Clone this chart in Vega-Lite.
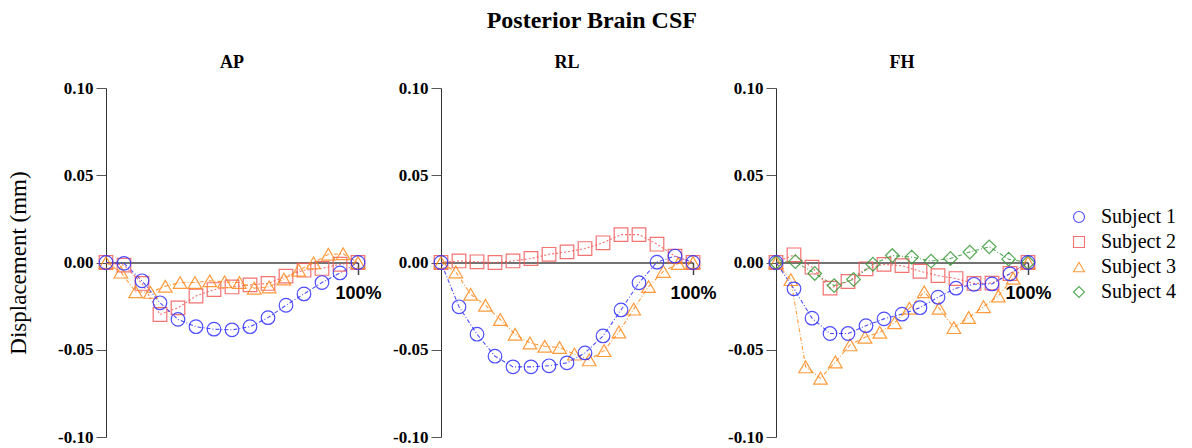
{
  "$schema": "https://vega.github.io/schema/vega-lite/v6.json",
  "title": {"text": "Posterior Brain CSF", "fontSize": 24, "anchor": "middle", "frame": "bounds", "offset": 21},
  "padding": {"left": 7, "right": 5, "top": 9, "bottom": 2},
  "spacing": 83,
  "bounds": "flush",
  "data": {
    "values": [
      {"dir": "AP", "subject": "Subject 2", "pct": 0, "disp": 0},
      {"dir": "AP", "subject": "Subject 2", "pct": 7.14, "disp": -0.0015},
      {"dir": "AP", "subject": "Subject 2", "pct": 14.29, "disp": -0.012},
      {"dir": "AP", "subject": "Subject 2", "pct": 21.43, "disp": -0.0298},
      {"dir": "AP", "subject": "Subject 2", "pct": 28.57, "disp": -0.026},
      {"dir": "AP", "subject": "Subject 2", "pct": 35.71, "disp": -0.0192},
      {"dir": "AP", "subject": "Subject 2", "pct": 42.86, "disp": -0.0155},
      {"dir": "AP", "subject": "Subject 2", "pct": 50, "disp": -0.014},
      {"dir": "AP", "subject": "Subject 2", "pct": 57.14, "disp": -0.0128},
      {"dir": "AP", "subject": "Subject 2", "pct": 64.29, "disp": -0.012},
      {"dir": "AP", "subject": "Subject 2", "pct": 71.43, "disp": -0.0078},
      {"dir": "AP", "subject": "Subject 2", "pct": 78.57, "disp": -0.0044},
      {"dir": "AP", "subject": "Subject 2", "pct": 85.71, "disp": -0.0034},
      {"dir": "AP", "subject": "Subject 2", "pct": 92.86, "disp": -0.001},
      {"dir": "AP", "subject": "Subject 2", "pct": 100, "disp": 0},
      {"dir": "AP", "subject": "Subject 3", "pct": 0, "disp": 0},
      {"dir": "AP", "subject": "Subject 3", "pct": 5.88, "disp": -0.0055},
      {"dir": "AP", "subject": "Subject 3", "pct": 11.76, "disp": -0.0168},
      {"dir": "AP", "subject": "Subject 3", "pct": 17.65, "disp": -0.0171},
      {"dir": "AP", "subject": "Subject 3", "pct": 23.53, "disp": -0.0136},
      {"dir": "AP", "subject": "Subject 3", "pct": 29.41, "disp": -0.0115},
      {"dir": "AP", "subject": "Subject 3", "pct": 35.29, "disp": -0.0115},
      {"dir": "AP", "subject": "Subject 3", "pct": 41.18, "disp": -0.0105},
      {"dir": "AP", "subject": "Subject 3", "pct": 47.06, "disp": -0.0111},
      {"dir": "AP", "subject": "Subject 3", "pct": 52.94, "disp": -0.0115},
      {"dir": "AP", "subject": "Subject 3", "pct": 58.82, "disp": -0.0147},
      {"dir": "AP", "subject": "Subject 3", "pct": 64.71, "disp": -0.014},
      {"dir": "AP", "subject": "Subject 3", "pct": 70.59, "disp": -0.0095},
      {"dir": "AP", "subject": "Subject 3", "pct": 76.47, "disp": -0.0044},
      {"dir": "AP", "subject": "Subject 3", "pct": 82.35, "disp": -0.0002},
      {"dir": "AP", "subject": "Subject 3", "pct": 88.24, "disp": 0.0047},
      {"dir": "AP", "subject": "Subject 3", "pct": 94.12, "disp": 0.005},
      {"dir": "AP", "subject": "Subject 3", "pct": 100, "disp": 0},
      {"dir": "AP", "subject": "Subject 1", "pct": 0, "disp": 0},
      {"dir": "AP", "subject": "Subject 1", "pct": 7.14, "disp": -0.0005},
      {"dir": "AP", "subject": "Subject 1", "pct": 14.29, "disp": -0.0105},
      {"dir": "AP", "subject": "Subject 1", "pct": 21.43, "disp": -0.0231},
      {"dir": "AP", "subject": "Subject 1", "pct": 28.57, "disp": -0.0326},
      {"dir": "AP", "subject": "Subject 1", "pct": 35.71, "disp": -0.0368},
      {"dir": "AP", "subject": "Subject 1", "pct": 42.86, "disp": -0.0382},
      {"dir": "AP", "subject": "Subject 1", "pct": 50, "disp": -0.0386},
      {"dir": "AP", "subject": "Subject 1", "pct": 57.14, "disp": -0.0368},
      {"dir": "AP", "subject": "Subject 1", "pct": 64.29, "disp": -0.0316},
      {"dir": "AP", "subject": "Subject 1", "pct": 71.43, "disp": -0.0245},
      {"dir": "AP", "subject": "Subject 1", "pct": 78.57, "disp": -0.018},
      {"dir": "AP", "subject": "Subject 1", "pct": 85.71, "disp": -0.0115},
      {"dir": "AP", "subject": "Subject 1", "pct": 92.86, "disp": -0.006},
      {"dir": "AP", "subject": "Subject 1", "pct": 100, "disp": 0},

      {"dir": "RL", "subject": "Subject 2", "pct": 0, "disp": 0},
      {"dir": "RL", "subject": "Subject 2", "pct": 7.14, "disp": 0.0009},
      {"dir": "RL", "subject": "Subject 2", "pct": 14.29, "disp": 0.0004},
      {"dir": "RL", "subject": "Subject 2", "pct": 21.43, "disp": 0},
      {"dir": "RL", "subject": "Subject 2", "pct": 28.57, "disp": 0.0009},
      {"dir": "RL", "subject": "Subject 2", "pct": 35.71, "disp": 0.0023},
      {"dir": "RL", "subject": "Subject 2", "pct": 42.86, "disp": 0.0047},
      {"dir": "RL", "subject": "Subject 2", "pct": 50, "disp": 0.0061},
      {"dir": "RL", "subject": "Subject 2", "pct": 57.14, "disp": 0.008},
      {"dir": "RL", "subject": "Subject 2", "pct": 64.29, "disp": 0.0113},
      {"dir": "RL", "subject": "Subject 2", "pct": 71.43, "disp": 0.016},
      {"dir": "RL", "subject": "Subject 2", "pct": 78.57, "disp": 0.016},
      {"dir": "RL", "subject": "Subject 2", "pct": 85.71, "disp": 0.0105},
      {"dir": "RL", "subject": "Subject 2", "pct": 92.86, "disp": 0.0036},
      {"dir": "RL", "subject": "Subject 2", "pct": 100, "disp": 0},
      {"dir": "RL", "subject": "Subject 3", "pct": 0, "disp": 0},
      {"dir": "RL", "subject": "Subject 3", "pct": 5.88, "disp": -0.0054},
      {"dir": "RL", "subject": "Subject 3", "pct": 11.76, "disp": -0.0182},
      {"dir": "RL", "subject": "Subject 3", "pct": 17.65, "disp": -0.0245},
      {"dir": "RL", "subject": "Subject 3", "pct": 23.53, "disp": -0.0327},
      {"dir": "RL", "subject": "Subject 3", "pct": 29.41, "disp": -0.0411},
      {"dir": "RL", "subject": "Subject 3", "pct": 35.29, "disp": -0.0461},
      {"dir": "RL", "subject": "Subject 3", "pct": 41.18, "disp": -0.048},
      {"dir": "RL", "subject": "Subject 3", "pct": 47.06, "disp": -0.0487},
      {"dir": "RL", "subject": "Subject 3", "pct": 52.94, "disp": -0.0525},
      {"dir": "RL", "subject": "Subject 3", "pct": 58.82, "disp": -0.0558},
      {"dir": "RL", "subject": "Subject 3", "pct": 64.71, "disp": -0.0505},
      {"dir": "RL", "subject": "Subject 3", "pct": 70.59, "disp": -0.0398},
      {"dir": "RL", "subject": "Subject 3", "pct": 76.47, "disp": -0.0267},
      {"dir": "RL", "subject": "Subject 3", "pct": 82.35, "disp": -0.0138},
      {"dir": "RL", "subject": "Subject 3", "pct": 88.24, "disp": -0.0051},
      {"dir": "RL", "subject": "Subject 3", "pct": 94.12, "disp": -0.0006},
      {"dir": "RL", "subject": "Subject 3", "pct": 100, "disp": 0},
      {"dir": "RL", "subject": "Subject 1", "pct": 0, "disp": 0},
      {"dir": "RL", "subject": "Subject 1", "pct": 7.14, "disp": -0.0254},
      {"dir": "RL", "subject": "Subject 1", "pct": 14.29, "disp": -0.0411},
      {"dir": "RL", "subject": "Subject 1", "pct": 21.43, "disp": -0.0537},
      {"dir": "RL", "subject": "Subject 1", "pct": 28.57, "disp": -0.0598},
      {"dir": "RL", "subject": "Subject 1", "pct": 35.71, "disp": -0.0598},
      {"dir": "RL", "subject": "Subject 1", "pct": 42.86, "disp": -0.0592},
      {"dir": "RL", "subject": "Subject 1", "pct": 50, "disp": -0.0575},
      {"dir": "RL", "subject": "Subject 1", "pct": 57.14, "disp": -0.0518},
      {"dir": "RL", "subject": "Subject 1", "pct": 64.29, "disp": -0.0421},
      {"dir": "RL", "subject": "Subject 1", "pct": 71.43, "disp": -0.0272},
      {"dir": "RL", "subject": "Subject 1", "pct": 78.57, "disp": -0.0116},
      {"dir": "RL", "subject": "Subject 1", "pct": 85.71, "disp": 0.0002},
      {"dir": "RL", "subject": "Subject 1", "pct": 92.86, "disp": 0.0037},
      {"dir": "RL", "subject": "Subject 1", "pct": 100, "disp": 0},

      {"dir": "FH", "subject": "Subject 2", "pct": 0, "disp": 0},
      {"dir": "FH", "subject": "Subject 2", "pct": 7.14, "disp": 0.0044},
      {"dir": "FH", "subject": "Subject 2", "pct": 14.29, "disp": -0.0027},
      {"dir": "FH", "subject": "Subject 2", "pct": 21.43, "disp": -0.0147},
      {"dir": "FH", "subject": "Subject 2", "pct": 28.57, "disp": -0.0109},
      {"dir": "FH", "subject": "Subject 2", "pct": 35.71, "disp": -0.0036},
      {"dir": "FH", "subject": "Subject 2", "pct": 42.86, "disp": -0.0011},
      {"dir": "FH", "subject": "Subject 2", "pct": 50, "disp": -0.0018},
      {"dir": "FH", "subject": "Subject 2", "pct": 57.14, "disp": -0.005},
      {"dir": "FH", "subject": "Subject 2", "pct": 64.29, "disp": -0.0075},
      {"dir": "FH", "subject": "Subject 2", "pct": 71.43, "disp": -0.0092},
      {"dir": "FH", "subject": "Subject 2", "pct": 78.57, "disp": -0.012},
      {"dir": "FH", "subject": "Subject 2", "pct": 85.71, "disp": -0.0118},
      {"dir": "FH", "subject": "Subject 2", "pct": 92.86, "disp": -0.0063},
      {"dir": "FH", "subject": "Subject 2", "pct": 100, "disp": 0},
      {"dir": "FH", "subject": "Subject 3", "pct": 0, "disp": 0},
      {"dir": "FH", "subject": "Subject 3", "pct": 5.88, "disp": -0.0098},
      {"dir": "FH", "subject": "Subject 3", "pct": 11.76, "disp": -0.0598},
      {"dir": "FH", "subject": "Subject 3", "pct": 17.65, "disp": -0.0663},
      {"dir": "FH", "subject": "Subject 3", "pct": 23.53, "disp": -0.057},
      {"dir": "FH", "subject": "Subject 3", "pct": 29.41, "disp": -0.0472},
      {"dir": "FH", "subject": "Subject 3", "pct": 35.29, "disp": -0.0428},
      {"dir": "FH", "subject": "Subject 3", "pct": 41.18, "disp": -0.04},
      {"dir": "FH", "subject": "Subject 3", "pct": 47.06, "disp": -0.0345},
      {"dir": "FH", "subject": "Subject 3", "pct": 52.94, "disp": -0.0262},
      {"dir": "FH", "subject": "Subject 3", "pct": 58.82, "disp": -0.0168},
      {"dir": "FH", "subject": "Subject 3", "pct": 64.71, "disp": -0.0262},
      {"dir": "FH", "subject": "Subject 3", "pct": 70.59, "disp": -0.0373},
      {"dir": "FH", "subject": "Subject 3", "pct": 76.47, "disp": -0.0315},
      {"dir": "FH", "subject": "Subject 3", "pct": 82.35, "disp": -0.0253},
      {"dir": "FH", "subject": "Subject 3", "pct": 88.24, "disp": -0.0192},
      {"dir": "FH", "subject": "Subject 3", "pct": 94.12, "disp": -0.009},
      {"dir": "FH", "subject": "Subject 3", "pct": 100, "disp": 0},
      {"dir": "FH", "subject": "Subject 4", "pct": 0, "disp": 0},
      {"dir": "FH", "subject": "Subject 4", "pct": 7.69, "disp": 0.0005},
      {"dir": "FH", "subject": "Subject 4", "pct": 15.38, "disp": -0.0063},
      {"dir": "FH", "subject": "Subject 4", "pct": 23.08, "disp": -0.0132},
      {"dir": "FH", "subject": "Subject 4", "pct": 30.77, "disp": -0.0097},
      {"dir": "FH", "subject": "Subject 4", "pct": 38.46, "disp": -0.001},
      {"dir": "FH", "subject": "Subject 4", "pct": 46.15, "disp": 0.004},
      {"dir": "FH", "subject": "Subject 4", "pct": 53.85, "disp": 0.0031},
      {"dir": "FH", "subject": "Subject 4", "pct": 61.54, "disp": 0.0008},
      {"dir": "FH", "subject": "Subject 4", "pct": 69.23, "disp": 0.0023},
      {"dir": "FH", "subject": "Subject 4", "pct": 76.92, "disp": 0.006},
      {"dir": "FH", "subject": "Subject 4", "pct": 84.62, "disp": 0.009},
      {"dir": "FH", "subject": "Subject 4", "pct": 92.31, "disp": 0.0019},
      {"dir": "FH", "subject": "Subject 4", "pct": 100, "disp": 0},
      {"dir": "FH", "subject": "Subject 1", "pct": 0, "disp": 0},
      {"dir": "FH", "subject": "Subject 1", "pct": 7.14, "disp": -0.0151},
      {"dir": "FH", "subject": "Subject 1", "pct": 14.29, "disp": -0.0319},
      {"dir": "FH", "subject": "Subject 1", "pct": 21.43, "disp": -0.0407},
      {"dir": "FH", "subject": "Subject 1", "pct": 28.57, "disp": -0.0407},
      {"dir": "FH", "subject": "Subject 1", "pct": 35.71, "disp": -0.0362},
      {"dir": "FH", "subject": "Subject 1", "pct": 42.86, "disp": -0.0323},
      {"dir": "FH", "subject": "Subject 1", "pct": 50, "disp": -0.0296},
      {"dir": "FH", "subject": "Subject 1", "pct": 57.14, "disp": -0.0259},
      {"dir": "FH", "subject": "Subject 1", "pct": 64.29, "disp": -0.0199},
      {"dir": "FH", "subject": "Subject 1", "pct": 71.43, "disp": -0.0147},
      {"dir": "FH", "subject": "Subject 1", "pct": 78.57, "disp": -0.0125},
      {"dir": "FH", "subject": "Subject 1", "pct": 85.71, "disp": -0.0123},
      {"dir": "FH", "subject": "Subject 1", "pct": 92.86, "disp": -0.0065},
      {"dir": "FH", "subject": "Subject 1", "pct": 100, "disp": 0}
    ]
  },
  "hconcat": [
    {
      "title": "AP",
      "width": 252,
      "height": 349,
      "transform": [{"filter": "datum.dir === 'AP'"}],
      "encoding": {
        "x": {"field": "pct", "type": "quantitative", "scale": {"domain": [0, 100], "nice": false, "zero": false}, "axis": {"values": [100], "labelExpr": "'100%'", "title": null}},
        "y": {"field": "disp", "type": "quantitative", "scale": {"domain": [-0.1, 0.1], "nice": false}, "axis": {"values": [-0.1, -0.05, 0, 0.05, 0.1], "title": "Displacement (mm)"}},
        "color": {
          "field": "subject", "type": "nominal",
          "scale": {"domain": ["Subject 1", "Subject 2", "Subject 3", "Subject 4"], "range": ["#2e2eff", "#f25a5a", "#ff8a1c", "#3a9a3a"]},
          "legend": {
            "title": null,
            "orient": "none",
            "legendX": 963,
            "legendY": 119,
            "labelFont": "Liberation Serif",
            "labelFontSize": 20,
            "labelColor": "black",
            "symbolSize": 120,
            "symbolStrokeWidth": 1.1,
            "labelOffset": 12,
            "rowPadding": 5
          }
        }
      },
      "layer": [
        {
          "transform": [{"filter": "datum.subject === 'Subject 2'"}],
          "mark": {"type": "line", "strokeWidth": 1.1, "opacity": 0.85, "strokeDash": [2, 2]}
        },
        {
          "transform": [{"filter": "datum.subject !== 'Subject 2'"}],
          "mark": {"type": "line", "strokeWidth": 1.1, "opacity": 0.85, "strokeDash": [4, 2, 1, 2]}
        },
        {
          "mark": {"type": "point", "filled": false, "size": 185, "strokeWidth": 1.2, "opacity": 0.85},
          "encoding": {
            "shape": {"field": "subject", "type": "nominal", "scale": {"domain": ["Subject 1", "Subject 2", "Subject 3", "Subject 4"], "range": ["circle", "square", "triangle-up", "diamond"]}}
          }
        }
      ]
    },
    {
      "title": "RL",
      "width": 252,
      "height": 349,
      "transform": [{"filter": "datum.dir === 'RL'"}],
      "encoding": {
        "x": {"field": "pct", "type": "quantitative", "scale": {"domain": [0, 100], "nice": false, "zero": false}, "axis": {"values": [100], "labelExpr": "'100%'", "title": null}},
        "y": {"field": "disp", "type": "quantitative", "scale": {"domain": [-0.1, 0.1], "nice": false}, "axis": {"values": [-0.1, -0.05, 0, 0.05, 0.1], "title": null}},
        "color": {"field": "subject", "type": "nominal", "scale": {"domain": ["Subject 1", "Subject 2", "Subject 3", "Subject 4"], "range": ["#2e2eff", "#f25a5a", "#ff8a1c", "#3a9a3a"]}}
      },
      "layer": [
        {
          "transform": [{"filter": "datum.subject === 'Subject 2'"}],
          "mark": {"type": "line", "strokeWidth": 1.1, "opacity": 0.85, "strokeDash": [2, 2]}
        },
        {
          "transform": [{"filter": "datum.subject !== 'Subject 2'"}],
          "mark": {"type": "line", "strokeWidth": 1.1, "opacity": 0.85, "strokeDash": [4, 2, 1, 2]}
        },
        {
          "mark": {"type": "point", "filled": false, "size": 185, "strokeWidth": 1.2, "opacity": 0.85},
          "encoding": {
            "shape": {"field": "subject", "type": "nominal", "scale": {"domain": ["Subject 1", "Subject 2", "Subject 3", "Subject 4"], "range": ["circle", "square", "triangle-up", "diamond"]}}
          }
        }
      ]
    },
    {
      "title": "FH",
      "width": 252,
      "height": 349,
      "transform": [{"filter": "datum.dir === 'FH'"}],
      "encoding": {
        "x": {"field": "pct", "type": "quantitative", "scale": {"domain": [0, 100], "nice": false, "zero": false}, "axis": {"values": [100], "labelExpr": "'100%'", "title": null}},
        "y": {"field": "disp", "type": "quantitative", "scale": {"domain": [-0.1, 0.1], "nice": false}, "axis": {"values": [-0.1, -0.05, 0, 0.05, 0.1], "title": null}},
        "color": {"field": "subject", "type": "nominal", "scale": {"domain": ["Subject 1", "Subject 2", "Subject 3", "Subject 4"], "range": ["#2e2eff", "#f25a5a", "#ff8a1c", "#3a9a3a"]}}
      },
      "layer": [
        {
          "transform": [{"filter": "datum.subject === 'Subject 2'"}],
          "mark": {"type": "line", "strokeWidth": 1.1, "opacity": 0.85, "strokeDash": [2, 2]}
        },
        {
          "transform": [{"filter": "datum.subject !== 'Subject 2'"}],
          "mark": {"type": "line", "strokeWidth": 1.1, "opacity": 0.85, "strokeDash": [4, 2, 1, 2]}
        },
        {
          "mark": {"type": "point", "filled": false, "size": 185, "strokeWidth": 1.2, "opacity": 0.85},
          "encoding": {
            "shape": {"field": "subject", "type": "nominal", "scale": {"domain": ["Subject 1", "Subject 2", "Subject 3", "Subject 4"], "range": ["circle", "square", "triangle-up", "diamond"]}}
          }
        }
      ]
    }
  ],
  "config": {
    "view": {"stroke": null},
    "font": "Liberation Serif",
    "title": {"font": "Liberation Serif", "fontWeight": "bold", "fontSize": 18, "color": "black", "anchor": "middle", "offset": 7},
    "axisY": {
      "labelFont": "Liberation Serif", "labelFontWeight": "bold", "labelFontSize": 17, "labelColor": "black",
      "labelPadding": 3, "tickSize": 10, "tickColor": "#555", "domainColor": "#333", "grid": false, "labelFlush": false,
      "labelExpr": "replace(format(datum.value, '.2f'), '\u2212', '-')",
      "titleFont": "Liberation Serif", "titleFontWeight": "normal", "titleFontSize": 23, "titleColor": "black", "titlePadding": 27
    },
    "axisX": {
      "offset": -174.5, "tickSize": 12, "domainColor": "#444", "domainWidth": 1.5, "tickColor": "#444", "tickWidth": 1.5,
      "labelFont": "Liberation Sans", "labelFontWeight": "bold", "labelFontSize": 18, "labelColor": "black",
      "labelPadding": 10, "grid": false, "labelFlush": false
    }
  }
}
